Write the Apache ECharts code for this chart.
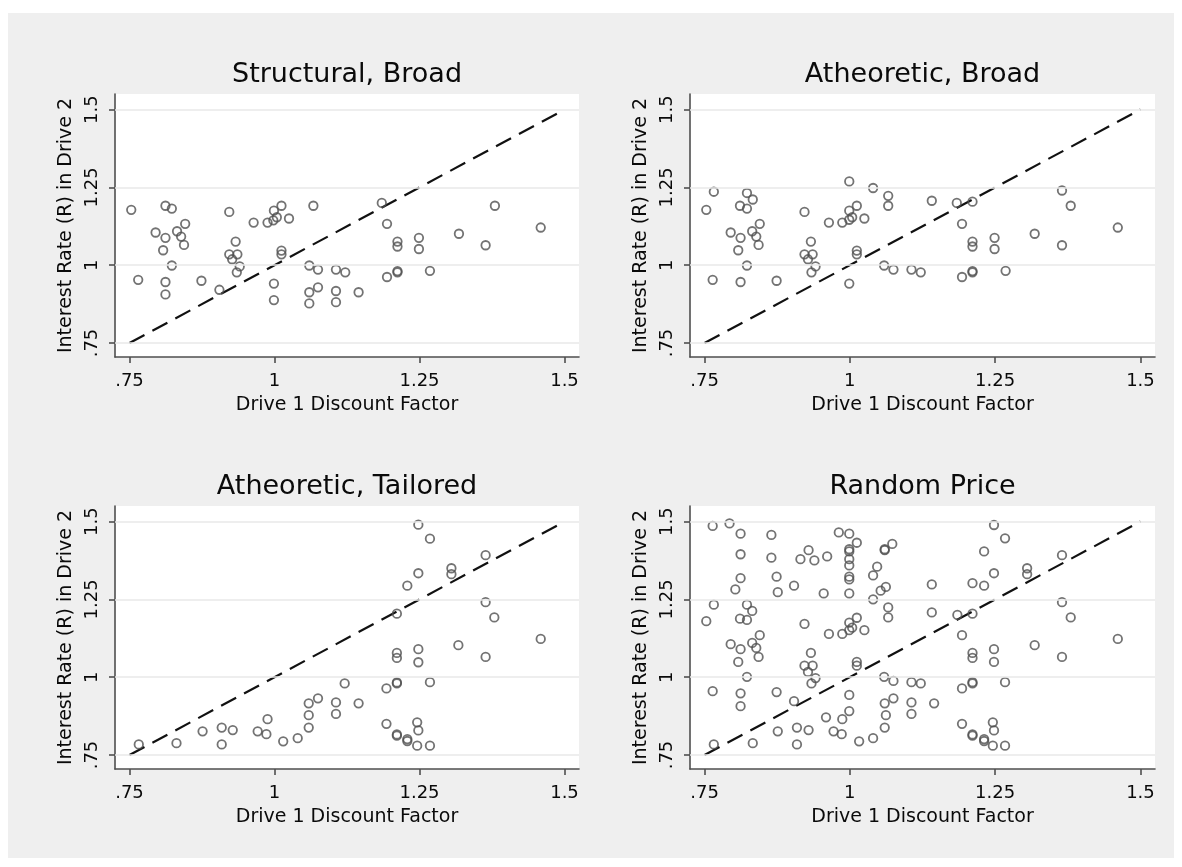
<!DOCTYPE html>
<html>
<head>
<meta charset="utf-8">
<script src="https://cdn.jsdelivr.net/npm/echarts@6/dist/echarts.min.js"></script>
<style>
    html, body { margin: 0; padding: 0; background: #ffffff; }
    #frame { position: absolute; left: 8px; top: 13px; width: 1166px; height: 845px; background: #efefef; }
    #chart { position: absolute; left: 0; top: 0; width: 1182px; height: 867px; }
</style>
</head>
<body>
<div id="frame"></div>
<div id="chart"></div>
<script>
    // axis ticks shared by all four panels
    const tickVals = [0.75, 1, 1.25, 1.5];
    const tickLabels = ['.75', '1', '1.25', '1.5'];
    const diagonal = [[0.75, 0.75], [1.5, 1.5]];
    const panelTitles = ['Structural, Broad', 'Atheoretic, Broad', 'Atheoretic, Tailored', 'Random Price'];
    const xName = 'Drive 1 Discount Factor';
    const yName = 'Interest Rate (R) in Drive 2';

    // [drive 1 discount factor, drive 2 interest rate]
    const structuralBroad = [
        [0.753, 1.178], [0.765, 0.953], [0.795, 1.105], [0.812, 1.191], [0.823, 1.182], [0.812, 1.088],
        [0.832, 1.109], [0.839, 1.092], [0.846, 1.133], [0.844, 1.065], [0.808, 1.048], [0.823, 0.999],
        [0.812, 0.946], [0.812, 0.906], [0.874, 0.950], [0.905, 0.921], [0.922, 1.171], [0.933, 1.076],
        [0.922, 1.035], [0.936, 1.035], [0.927, 1.019], [0.940, 0.996], [0.935, 0.977], [0.964, 1.137],
        [0.988, 1.137], [0.999, 1.175], [1.004, 1.154], [0.998, 1.144], [1.012, 1.191], [1.025, 1.150],
        [1.012, 1.047], [1.012, 1.035], [1.067, 1.191], [1.060, 0.999], [1.075, 0.986], [0.999, 0.941],
        [0.999, 0.888], [1.060, 0.913], [1.075, 0.929], [1.060, 0.877], [1.106, 0.986], [1.122, 0.977],
        [1.106, 0.917], [1.106, 0.881], [1.145, 0.913], [1.185, 1.200], [1.194, 1.133], [1.212, 1.076],
        [1.212, 1.060], [1.194, 0.962], [1.212, 0.981], [1.212, 0.977], [1.249, 1.088], [1.249, 1.052],
        [1.268, 0.982], [1.318, 1.101], [1.380, 1.191], [1.364, 1.064], [1.459, 1.121]
    ];
    const atheoreticBroad = [
        [0.753, 1.178], [0.766, 1.236], [0.764, 0.953], [0.795, 1.105], [0.823, 1.232], [0.833, 1.211],
        [0.811, 1.191], [0.823, 1.182], [0.845, 1.133], [0.832, 1.109], [0.839, 1.092], [0.812, 1.088],
        [0.843, 1.065], [0.808, 1.048], [0.823, 0.999], [0.812, 0.946], [0.874, 0.950], [0.922, 1.171],
        [0.933, 1.076], [0.922, 1.035], [0.936, 1.035], [0.928, 1.019], [0.941, 0.996], [0.934, 0.977],
        [0.964, 1.137], [0.987, 1.137], [0.999, 1.269], [0.999, 1.175], [1.004, 1.154], [0.999, 1.146],
        [1.012, 1.191], [1.025, 1.150], [1.040, 1.248], [1.012, 1.047], [1.012, 1.035], [0.999, 0.941],
        [1.066, 1.223], [1.066, 1.191], [1.059, 0.999], [1.075, 0.986], [1.106, 0.986], [1.122, 0.977],
        [1.141, 1.207], [1.184, 1.200], [1.211, 1.204], [1.193, 1.133], [1.211, 1.076], [1.211, 1.060],
        [1.193, 0.962], [1.211, 0.981], [1.211, 0.977], [1.249, 1.088], [1.249, 1.052], [1.268, 0.982],
        [1.318, 1.101], [1.365, 1.240], [1.380, 1.191], [1.365, 1.064], [1.461, 1.121]
    ];
    const atheoreticTailored = [
        [0.766, 0.784], [0.831, 0.788], [0.876, 0.826], [0.909, 0.838], [0.909, 0.784], [0.928, 0.830],
        [0.971, 0.826], [0.986, 0.817], [0.988, 0.865], [1.015, 0.794], [1.040, 0.804], [1.059, 0.838],
        [1.059, 0.878], [1.059, 0.916], [1.075, 0.932], [1.106, 0.919], [1.106, 0.882], [1.121, 0.980],
        [1.145, 0.916], [1.193, 0.964], [1.193, 0.850], [1.211, 0.983], [1.211, 0.980], [1.211, 1.204],
        [1.211, 1.078], [1.211, 1.062], [1.211, 0.816], [1.211, 0.812], [1.229, 1.294], [1.229, 0.801],
        [1.229, 0.795], [1.248, 1.490], [1.248, 1.334], [1.248, 1.090], [1.248, 1.048], [1.246, 0.855],
        [1.248, 0.829], [1.246, 0.780], [1.268, 1.445], [1.268, 0.984], [1.268, 0.780], [1.305, 1.350],
        [1.305, 1.331], [1.317, 1.103], [1.364, 1.392], [1.364, 1.241], [1.379, 1.192], [1.364, 1.065],
        [1.459, 1.123]
    ];
    const randomPrice = [
        [0.764, 1.486], [0.793, 1.494], [0.812, 1.461], [0.865, 1.457], [0.812, 1.395], [0.865, 1.384],
        [0.812, 1.318], [0.874, 1.323], [0.803, 1.282], [0.876, 1.273], [0.929, 1.408], [0.915, 1.379],
        [0.939, 1.375], [0.961, 1.388], [0.904, 1.294], [0.955, 1.269], [0.981, 1.465], [0.999, 1.461],
        [1.012, 1.432], [0.999, 1.411], [0.999, 1.404], [0.999, 1.379], [0.999, 1.359], [0.999, 1.323],
        [0.999, 1.314], [0.999, 1.269], [1.060, 1.411], [1.060, 1.408], [1.073, 1.428], [1.047, 1.355],
        [1.040, 1.327], [1.062, 1.290], [1.053, 1.278], [1.141, 1.298], [1.231, 1.404], [1.248, 1.489],
        [1.267, 1.446], [1.248, 1.334], [1.211, 1.302], [1.231, 1.294], [1.305, 1.350], [1.305, 1.331],
        [1.365, 1.392], [1.040, 1.250],
        [0.766, 1.233], [0.753, 1.180], [0.823, 1.233], [0.832, 1.213], [0.811, 1.188], [0.823, 1.184],
        [0.845, 1.135], [0.832, 1.110], [0.795, 1.106], [0.839, 1.094], [0.812, 1.090], [0.843, 1.065],
        [0.808, 1.049], [0.823, 1.001], [0.922, 1.171], [0.933, 1.078], [0.922, 1.037], [0.936, 1.037],
        [0.928, 1.017], [0.941, 0.997], [0.934, 0.980], [0.964, 1.139], [0.987, 1.139], [0.999, 1.175],
        [1.004, 1.159], [0.999, 1.151], [1.012, 1.191], [1.025, 1.151], [1.012, 1.049], [1.012, 1.037],
        [1.066, 1.224], [1.066, 1.192], [1.059, 1.001], [1.141, 1.208], [1.185, 1.200], [1.211, 1.204],
        [1.193, 1.135], [1.211, 1.078], [1.211, 1.062], [1.248, 1.090], [1.248, 1.049], [1.318, 1.103],
        [1.365, 1.241], [1.380, 1.192], [1.365, 1.065], [1.461, 1.123],
        [0.764, 0.955], [0.812, 0.948], [0.812, 0.907], [0.874, 0.952], [0.904, 0.923], [0.766, 0.784],
        [0.833, 0.788], [0.876, 0.826], [0.909, 0.838], [0.909, 0.784], [0.929, 0.830], [0.959, 0.871],
        [0.972, 0.826], [0.986, 0.817], [0.987, 0.865], [0.999, 0.943], [0.999, 0.891], [1.016, 0.794],
        [1.040, 0.804], [1.060, 0.838], [1.062, 0.878], [1.060, 0.916], [1.075, 0.932], [1.075, 0.988],
        [1.106, 0.919], [1.106, 0.882], [1.106, 0.984], [1.122, 0.980], [1.145, 0.916], [1.193, 0.964],
        [1.193, 0.850], [1.211, 0.984], [1.211, 0.980], [1.211, 0.816], [1.211, 0.812], [1.231, 0.801],
        [1.231, 0.795], [1.246, 0.855], [1.248, 0.829], [1.246, 0.780], [1.267, 0.780], [1.267, 0.984]
    ];

    const panelData = [structuralBroad, atheoreticBroad, atheoreticTailored, randomPrice];

    // plot regions in pixels
    const boxes = [
        {left: 115, top: 94, width: 464, height: 263},
        {left: 690, top: 94, width: 465, height: 263},
        {left: 115, top: 506, width: 464, height: 263},
        {left: 690, top: 506, width: 465, height: 263}
    ];

    const FONT = 'DejaVu Sans';
    const axisColor = '#4f4f4f';

    function fmt(v) {
        return tickLabels[tickVals.indexOf(v)];
    }

    let option = {
        animation: false,
        textStyle: {fontFamily: FONT},
        title: [],
        grid: [],
        xAxis: [],
        yAxis: [],
        series: []
    };

    boxes.forEach((b, i) => {
        option.title.push({
            text: panelTitles[i],
            left: b.left + b.width / 2,
            top: b.top - 33,
            textAlign: 'center',
            padding: 0,
            textStyle: {fontFamily: FONT, fontSize: 27, fontWeight: 'normal', color: '#0a0a0a'}
        });
        option.grid.push({
            left: b.left, top: b.top, width: b.width, height: b.height,
            show: true, backgroundColor: '#ffffff', borderWidth: 0
        });
        option.xAxis.push({
            type: 'value', gridIndex: i, min: 0.725, max: 1.525,
            name: xName, nameLocation: 'middle', nameGap: 39,
            nameTextStyle: {fontFamily: FONT, fontSize: 19, color: '#0a0a0a'},
            axisLine: {show: true, onZero: false, lineStyle: {color: axisColor, width: 1.6}},
            axisTick: {show: true, length: 6, customValues: tickVals, lineStyle: {color: axisColor, width: 1.6}},
            axisLabel: {customValues: tickVals, formatter: fmt, margin: 15, fontFamily: FONT, fontSize: 18, color: '#0a0a0a'},
            splitLine: {show: false}
        });
        option.yAxis.push({
            type: 'value', gridIndex: i, min: 0.705, max: 1.55,
            name: yName, nameLocation: 'middle', nameGap: 39,
            nameTextStyle: {fontFamily: FONT, fontSize: 19, color: '#0a0a0a'},
            axisLine: {show: true, onZero: false, lineStyle: {color: axisColor, width: 1.6}},
            axisTick: {show: true, length: 6, customValues: tickVals, lineStyle: {color: axisColor, width: 1.6}},
            axisLabel: {customValues: tickVals, formatter: fmt, rotate: 90, margin: 14, fontFamily: FONT, fontSize: 18, color: '#0a0a0a'},
            splitLine: {show: false}
        });
        option.series.push({
            type: 'line',
            xAxisIndex: i, yAxisIndex: i,
            data: diagonal,
            showSymbol: false,
            silent: true,
            z: 1,
            lineStyle: {color: '#111', width: 2.2, type: [17, 9]},
            markLine: {
                silent: true,
                symbol: ['none', 'none'],
                label: {show: false},
                lineStyle: {color: '#e8e8e8', width: 1.6, type: 'solid'},
                data: tickVals.map(v => ({yAxis: v}))
            }
        });
        option.series.push({
            type: 'scatter',
            xAxisIndex: i, yAxisIndex: i,
            data: panelData[i],
            symbol: 'circle',
            symbolSize: 8.5,
            z: 3,
            itemStyle: {color: 'rgba(0,0,0,0)', borderColor: '#505050', borderWidth: 1.8},
            emphasis: {disabled: true}
        });
    });

    let myChart = echarts.init(document.getElementById('chart'));
    myChart.setOption(option);
</script>
</body>
</html>
